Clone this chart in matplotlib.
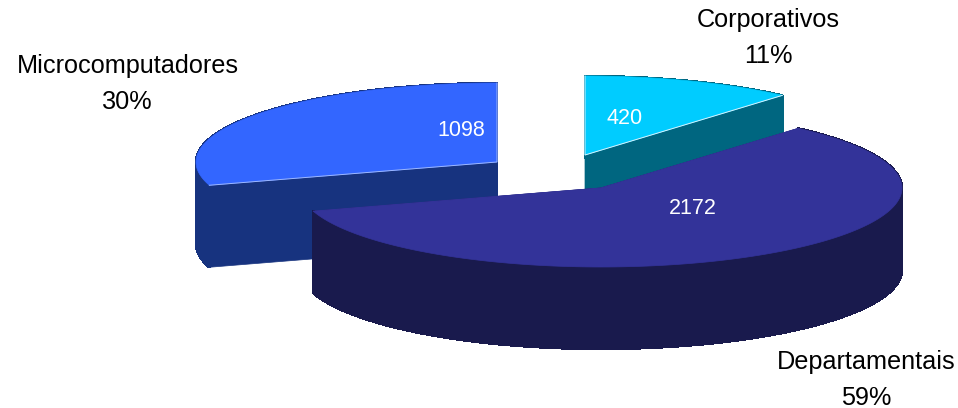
from __future__ import annotations

import numpy as np
import matplotlib.pyplot as plt
from matplotlib.collections import PolyCollection
from matplotlib.patches import Polygon


CATEGORIES = ["Corporativos", "Departamentais", "Microcomputadores"]
VALUES = [420, 2172, 1098]
PERCENTS = ["11%", "59%", "30%"]

TOP_COLORS = ["#00CCFF", "#333399", "#3366FF"]
SIDE_COLORS = ["#006680", "#191A4D", "#17337F"]
HIGHLIGHT_COLORS = ["#D8F4FF", "#333399", "#9DB8FF"]

# exploded slice apex in pixels, per category
APEX = {"Corporativos": (585, 155), "Departamentais": (601, 188), "Microcomputadores": (497, 162)}
LABEL_POS = {"Corporativos": (768, 38), "Departamentais": (866, 380), "Microcomputadores": (127.5, 84)}
VALUE_POS = {"Corporativos": (625, 118), "Departamentais": (693, 208), "Microcomputadores": (461, 131)}

RX, RY = 301, 79
DEPTH = 82


def rim(apex, start, stop):
    # clockwise from 12 o'clock, squashed circle
    angles = np.radians(np.linspace(start, stop, 240))
    return np.column_stack((apex[0] + RX * np.sin(angles), apex[1] - RY * np.cos(angles)))


def add_slice(axis, apex, start, stop, top_color, side_color, highlight):
    edge = rim(apex, start, stop)
    drop = np.array([0, DEPTH])
    apex = np.array(apex, dtype=float)
    for point in (edge[0], edge[-1]):
        face = [apex, point, point + drop, apex + drop]
        axis.add_patch(Polygon(face, closed=True, facecolor=side_color, edgecolor=side_color, linewidth=0.5))
    # outer wall as thin quads so the far left and right ends stay filled
    quads = [[a, b, b + drop, a + drop] for a, b in zip(edge[:-1], edge[1:])]
    axis.add_collection(PolyCollection(quads, facecolors=side_color, edgecolors=side_color, linewidths=1.0, antialiaseds=False))
    axis.add_patch(Polygon(np.vstack((apex, edge)), closed=True, facecolor=top_color, edgecolor=top_color, linewidth=0.5))
    # thin light line along the two cut edges
    cut = np.vstack((edge[0], apex, edge[-1]))
    axis.plot(cut[:, 0], cut[:, 1], color=highlight, linewidth=0.7, solid_joinstyle="miter")


def main() -> None:
    plt.rcParams["font.family"] = ["Liberation Sans", "DejaVu Sans"]
    fig = plt.figure(figsize=(9.58, 4.08), dpi=100)
    axis = fig.add_axes([0, 0, 1, 1])
    axis.set_xlim(0, 958)
    axis.set_ylim(408, 0)
    axis.axis("off")

    stops = np.cumsum(VALUES) / np.sum(VALUES) * 360
    starts = np.concatenate(([0], stops[:-1]))
    slices = list(zip(CATEGORIES, starts, stops, TOP_COLORS, SIDE_COLORS, HIGHLIGHT_COLORS))
    # back to front
    for index in (2, 0, 1):
        name, start, stop, top_color, side_color, highlight = slices[index]
        add_slice(axis, APEX[name], start, stop, top_color, side_color, highlight)

    for name, value, percent in zip(CATEGORIES, VALUES, PERCENTS):
        axis.text(*LABEL_POS[name], f"{name}\n{percent}", ha="center", va="center", fontsize=18.2, color="black", linespacing=1.6)
        axis.text(*VALUE_POS[name], str(value), ha="center", va="center", fontsize=15.5, color="white")

    fig.savefig("out.png", dpi=100)
    plt.close(fig)


if __name__ == "__main__":
    main()
